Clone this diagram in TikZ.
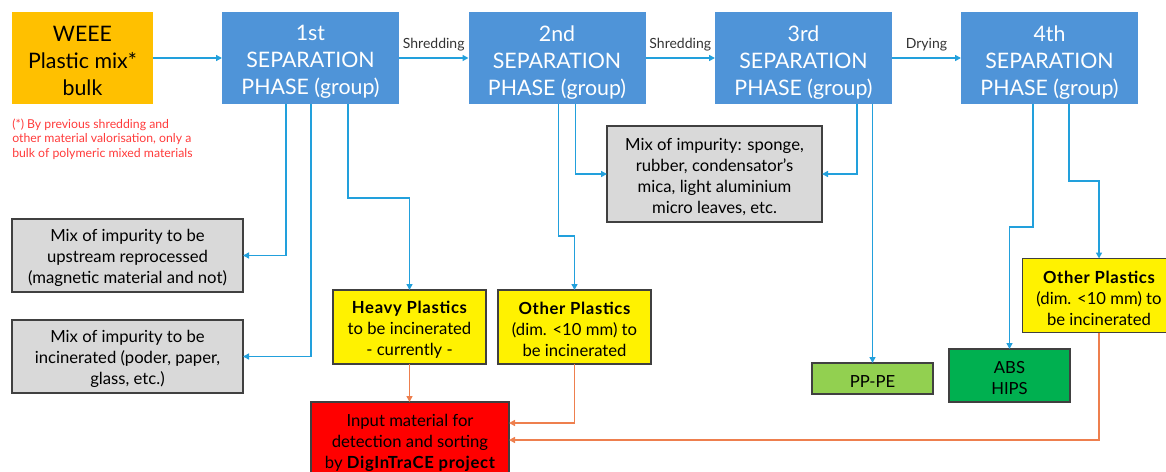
\documentclass[tikz,border=0pt]{standalone}
\usepackage{fontspec}
\setmainfont{Lato}
\usetikzlibrary{arrows.meta}

\definecolor{feedorange}{HTML}{FFC000}
\definecolor{phaseblue}{HTML}{4F94D8}
\definecolor{flowblue}{HTML}{22A0DC}
\definecolor{wasteorange}{HTML}{EE7F4E}
\definecolor{impgray}{HTML}{D9D9D9}
\definecolor{edgegray}{HTML}{404040}
\definecolor{notered}{HTML}{FF3B3B}
\definecolor{lightgreen}{HTML}{92D050}
\definecolor{darkgreen}{HTML}{00B050}

% widened bold for the box headings
\newcommand{\heading}[1]{{\bfseries\addfontfeature{LetterSpace=4}#1}}

\tikzset{
  box/.style={inner sep=0pt, outer sep=0pt},
  size/.style 2 args={minimum width=0.75pt*#1, minimum height=0.75pt*#2},
  bigtext/.style={font=\fontsize{16}{20.25}\selectfont, align=center},
  smalltext/.style={font=\fontsize{12.5}{15.75}\selectfont, align=center},
  % box texts sit a little below the geometric centre
  bigcontent/.style={label={[bigtext, text=black, yshift=-2.4pt]center:{#1}}},
  whitecontent/.style={label={[bigtext, text=white, yshift=-3.2pt]center:{#1}}},
  content/.style={label={[smalltext, text=black, yshift=-2pt]center:{#1}}},
  feedbox/.style={box, fill=feedorange},
  phasebox/.style={box, fill=phaseblue, size={177}{92}},
  framed/.style={box, draw=edgegray, line width=1pt},
  impbox/.style={framed, fill=impgray},
  plasticbox/.style={framed, fill=yellow, size={153}{74}},
  inputbox/.style={framed, fill=red},
  ppbox/.style={framed, fill=lightgreen},
  absbox/.style={framed, fill=darkgreen},
  steplabel/.style={font=\fontsize{10.5}{12}\selectfont, text=black!80, inner sep=1pt},
  notetext/.style={font=\fontsize{9.2}{10.6}\selectfont, text=notered, align=left, inner sep=0pt},
  flow/.style={draw=flowblue, line width=1.1pt, -{Triangle[length=4.5pt,width=4.5pt]}},
  waste/.style={draw=wasteorange, line width=1.1pt, -{Triangle[length=4.5pt,width=4.5pt]}},
}

\begin{document}
\begin{tikzpicture}[x=0.75pt, y=-0.75pt]
  \useasboundingbox (0,0) rectangle (1166,471);
  \clip (0,0) rectangle (1166,471);

  % input material and the four separation phases
  \node[feedbox, size={141}{92}, bigcontent={WEEE\\Plastic mix*\\bulk}] (weee) at (82.5,58) {};
  \node[phasebox, whitecontent={1st\\SEPARATION\\PHASE (group)}] (s1) at (310.5,58) {};
  \node[phasebox, whitecontent={2nd\\SEPARATION\\PHASE (group)}] (s2) at (557,58) {};
  \node[phasebox, whitecontent={3rd\\SEPARATION\\PHASE (group)}] (s3) at (803.5,58) {};
  \node[phasebox, whitecontent={4th\\SEPARATION\\PHASE (group)}] (s4) at (1049.5,58) {};

  \node[notetext, anchor=north west] (note) at (12,119)
    {(*) By previous shredding and\\other material valorisation, only a\\bulk of polymeric mixed materials};

  % outputs of the phases
  \node[impbox, size={231}{73},
    content={Mix of impurity to be\\upstream reprocessed\\(magnetic material and not)}] (imp1) at (127.5,255.5) {};
  \node[impbox, size={231}{73},
    content={Mix of impurity to be\\incinerated (poder, paper,\\glass, etc.)}] (imp2) at (127.5,356.5) {};
  \node[impbox, size={215}{96},
    content={Mix of impurity: sponge,\\rubber, condensator’s\\mica, light aluminium\\micro leaves, etc.}] (mix) at (714.5,174) {};
  \node[plasticbox,
    content={\heading{Heavy Plastics}\\to be incinerated\\- currently -}] (heavy) at (409.5,327) {};
  \node[plasticbox,
    content={\heading{Other Plastics}\\(dim. <10 mm) to\\be incinerated}] (other2) at (574.5,327) {};
  \node[plasticbox,
    content={\heading{Other Plastics}\\(dim. <10 mm) to\\be incinerated}] (other4) at (1099,295.5) {};
  \node[ppbox, size={121}{31}, content={PP-PE}] (pp) at (872.5,378.5) {};
  \node[absbox, size={121}{53}, content={ABS\\HIPS}] (abs) at (1009.5,375.5) {};
  \node[inputbox, size={198}{76},
    content={Input material for\\detection and sorting\\by \heading{DigInTraCE project}}] (input) at (410,440) {};

  % main line
  \draw[flow] (weee) -- (s1);
  \draw[flow] (s1) -- node[steplabel, above=4pt] (shred1) {Shredding} (s2);
  \draw[flow] (s2) -- node[steplabel, above=4pt] (shred2) {Shredding} (s3);
  \draw[flow] (s3) -- node[steplabel, above=4pt] (dry) {Drying} (s4);

  % 1st phase outputs
  \draw[flow] (s1.south west) ++(64,0) |- (imp1.east);
  \draw[flow] (s1.south west) ++(89,0) |- (imp2.east);
  \draw[flow] (s1.south west) ++(126,0) -- ++(0,94) -| (heavy.north);

  % 2nd phase outputs
  \draw[flow] (s2.south west) ++(107,0) |- (mix.west);
  \draw[flow] (s2.south west) ++(90,0) -- ++(0,132) -| (other2.north);

  % 3rd phase outputs
  \draw[flow] (s3.south west) ++(142,0) |- (mix.east);
  \draw[flow] (pp.north |- s3.south) -- (pp.north);

  % 4th phase outputs
  \draw[flow] (s4.south west) ++(72,0) -- ++(0,123) -| (abs.north);
  \draw[flow] (s4.south west) ++(108,0) -- ++(0,77) -| (other4.north);

  % material sent on to detection and sorting
  \draw[waste] (heavy.south) -- (heavy.south |- input.north);
  \draw[waste] (other2.south) |- ([yshift=12.75pt]input.east);
  \draw[waste] (other4.south) |- (input.east);
\end{tikzpicture}
\end{document}
